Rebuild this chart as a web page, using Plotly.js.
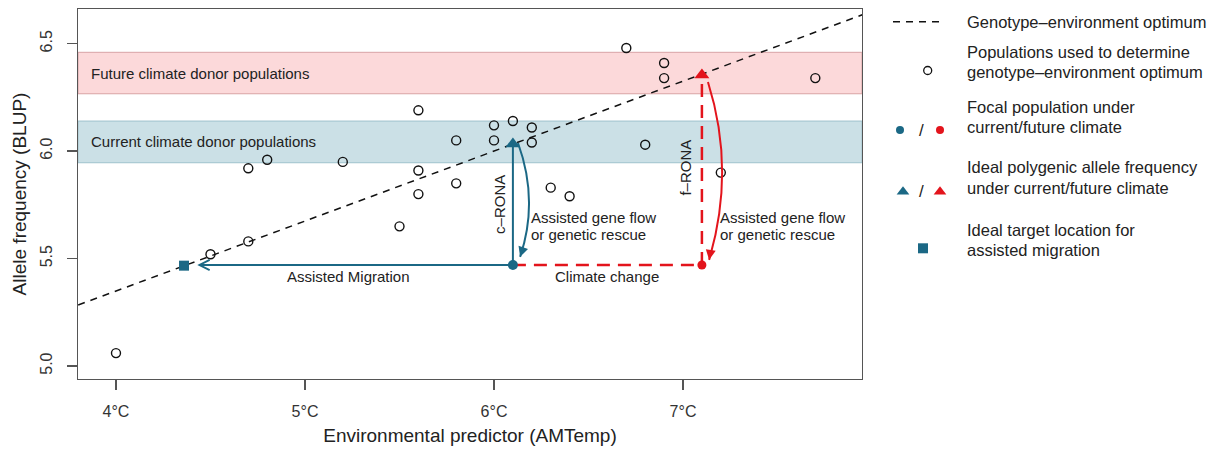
<!DOCTYPE html>
<html>
<head>
<meta charset="utf-8">
<script src="https://cdn.plot.ly/plotly-3.0.1.min.js"></script>
<style>html,body{margin:0;padding:0;background:#fff;}#chart{width:1224px;height:454px;}</style>
</head>
<body>
<div id="chart"></div>
<script>
// ---------------- data ----------------
const popX = [4.0, 4.5, 4.7, 4.7, 4.8, 5.2, 5.5, 5.6, 5.6, 5.6, 5.8, 5.8, 6.0, 6.0, 6.1, 6.2, 6.2, 6.3, 6.4, 6.7, 6.8, 6.9, 6.9, 7.2, 7.7];
const popY = [5.06, 5.52, 5.58, 5.92, 5.96, 5.95, 5.65, 6.19, 5.91, 5.80, 6.05, 5.85, 6.12, 6.05, 6.14, 6.11, 6.04, 5.83, 5.79, 6.48, 6.03, 6.41, 6.34, 5.90, 6.34];
const optimumX = [3.80, 7.95];
const optimumY = [5.284, 6.635];
const focalX = [6.1, 7.1];          // current, future climate
const focalY = [5.47, 5.47];
const idealX = [6.1, 7.1];          // ideal allele frequency current, future
const idealY = [6.033, 6.354];
const targetX = [4.36];
const targetY = [5.467];
const migrationTipX = 4.43;
const futureBand = [6.267, 6.46];
const currentBand = [5.946, 6.140];
const xTickVals = [4, 5, 6, 7];
const xTickText = ['4°C', '5°C', '6°C', '7°C'];
const yTickVals = [5.0, 5.5, 6.0, 6.5];
const yTickText = ['5.0', '5.5', '6.0', '6.5'];
// curved "assisted gene flow" arrows: start, control, end
const cCurve = {x: [6.127, 6.238, 6.138], y: [6.038, 5.77, 5.508]};
const fCurve = {x: [7.132, 7.279, 7.138], y: [6.322, 5.913, 5.494]};

const TEAL = '#1b6885';
const RED = '#e3141c';
const INK = '#222';
const FONT = 'Liberation Sans, Arial, Helvetica, sans-serif';

const traces = [
  {x: optimumX, y: optimumY, mode: 'lines', line: {color: '#111', width: 1.5, dash: '7px,6px'}, hoverinfo: 'skip'},
  {x: popX, y: popY, mode: 'markers', marker: {symbol: 'circle-open', size: 9, color: '#111', line: {width: 1.4}}},
  // c-RONA vertical
  {x: [focalX[0], idealX[0]], y: [focalY[0], idealY[0]], mode: 'lines', line: {color: TEAL, width: 2}},
  // f-RONA vertical dashed
  {x: [focalX[1], idealX[1]], y: [focalY[1], idealY[1]], mode: 'lines', line: {color: RED, width: 2.5, dash: '13px,8px'}},
  // climate change dashed
  {x: [focalX[0], focalX[1]], y: [focalY[0], focalY[1]], mode: 'lines', line: {color: RED, width: 2.5, dash: '13px,8px'}},
  {x: [focalX[0]], y: [focalY[0]], mode: 'markers', marker: {symbol: 'circle', size: 10, color: TEAL}},
  {x: [focalX[1]], y: [focalY[1]], mode: 'markers', marker: {symbol: 'circle', size: 9, color: RED}},
  {x: [idealX[0]], y: [idealY[0]], mode: 'markers', marker: {symbol: 'triangle-up', size: 13, color: TEAL}},
  {x: [idealX[1]], y: [idealY[1]], mode: 'markers', marker: {symbol: 'triangle-up', size: 13, color: RED}},
  {x: targetX, y: targetY, mode: 'markers', marker: {symbol: 'square', size: 10, color: TEAL}},
  // legend symbols (pixel-space axes)
  {x: [893, 941], y: [21.7, 21.7], xaxis: 'x2', yaxis: 'y2', mode: 'lines', line: {color: '#111', width: 1.5, dash: '7px,6px'}},
  {x: [927.7], y: [70.5], xaxis: 'x2', yaxis: 'y2', mode: 'markers', marker: {symbol: 'circle-open', size: 8, color: '#111', line: {width: 1.3}}},
  {x: [900], y: [130], xaxis: 'x2', yaxis: 'y2', mode: 'markers', marker: {symbol: 'circle', size: 8, color: TEAL}},
  {x: [940], y: [130], xaxis: 'x2', yaxis: 'y2', mode: 'markers', marker: {symbol: 'circle', size: 8, color: RED}},
  {x: [903], y: [191.7], xaxis: 'x2', yaxis: 'y2', mode: 'markers', marker: {symbol: 'triangle-up', size: 11, color: TEAL}},
  {x: [940], y: [191.7], xaxis: 'x2', yaxis: 'y2', mode: 'markers', marker: {symbol: 'triangle-up', size: 11, color: RED}},
  {x: [923], y: [248.3], xaxis: 'x2', yaxis: 'y2', mode: 'markers', marker: {symbol: 'square', size: 10, color: TEAL}}
];

function band(r, fill, edge) {
  return {type: 'rect', xref: 'x domain', yref: 'y', x0: 0, x1: 1, y0: r[0], y1: r[1],
          fillcolor: fill, line: {color: edge, width: 1}, layer: 'below'};
}
function curve(c, color) {
  return {type: 'path', xref: 'x', yref: 'y', layer: 'above',
    path: `M${c.x[0]},${c.y[0]} Q${c.x[1]},${c.y[1]} ${c.x[2]},${c.y[2]}`,
    line: {color: color, width: 2}};
}
const shapes = [
  band(futureBand, '#fcd9da', '#d8a3a5'),
  band(currentBand, '#cbe0e6', '#9fc2cc'),
  curve(cCurve, TEAL),
  curve(fCurve, RED)
];

function txt(x, y, text, opts) {
  return Object.assign({x: x, y: y, xref: 'x', yref: 'y', text: text, showarrow: false,
    font: {family: FONT, size: 15, color: INK}}, opts || {});
}
function legText(y, text) {
  return {x: 965, y: y, xref: 'x2', yref: 'y2', text: text, showarrow: false, xanchor: 'left',
    font: {family: FONT, size: 16.5, color: INK}};
}
const annotations = [
  txt(3.857, (futureBand[0] + futureBand[1]) / 2, 'Future climate donor populations', {xanchor: 'left'}),
  txt(3.857, (currentBand[0] + currentBand[1]) / 2, 'Current climate donor populations', {xanchor: 'left'}),
  txt(5.228, 5.415, 'Assisted Migration'),
  txt(6.596, 5.415, 'Climate change'),
  txt(6.032, 5.75, 'c–RONA', {textangle: -90}),
  txt(7.011, 5.924, 'f–RONA', {textangle: -90}),
  txt(6.185, 5.692, 'Assisted gene flow', {xanchor: 'left'}),
  txt(6.185, 5.613, 'or genetic rescue', {xanchor: 'left'}),
  txt(7.187, 5.692, 'Assisted gene flow', {xanchor: 'left'}),
  txt(7.187, 5.613, 'or genetic rescue', {xanchor: 'left'}),
  // assisted migration arrow
  {x: migrationTipX, y: focalY[0], ax: focalX[0], ay: focalY[0], xref: 'x', yref: 'y', axref: 'x', ayref: 'y',
   text: '', showarrow: true, arrowhead: 5, arrowsize: 1, arrowwidth: 2, arrowcolor: TEAL},
  // curved arrow heads
  {x: cCurve.x[2], y: cCurve.y[2], ax: 3.2, ay: -9.5, xref: 'x', yref: 'y', text: '', showarrow: true,
   arrowhead: 2, arrowsize: 1, arrowwidth: 2, arrowcolor: TEAL},
  {x: fCurve.x[2], y: fCurve.y[2], ax: 1.7, ay: -9.9, xref: 'x', yref: 'y', text: '', showarrow: true,
   arrowhead: 2, arrowsize: 1, arrowwidth: 2, arrowcolor: RED},
  legText(21.7, 'Genotype–environment optimum'),
  legText(51.7, 'Populations used to determine'),
  legText(71.7, 'genotype–environment optimum'),
  legText(106.7, 'Focal population under'),
  legText(126.7, 'current/future climate'),
  legText(167, 'Ideal polygenic allele frequency'),
  legText(188, 'under current/future climate'),
  legText(230, 'Ideal target location for'),
  legText(250, 'assisted migration'),
  {x: 921.7, y: 130, xref: 'x2', yref: 'y2', text: '/', showarrow: false, font: {family: FONT, size: 17, color: INK}},
  {x: 921.7, y: 191.7, xref: 'x2', yref: 'y2', text: '/', showarrow: false, font: {family: FONT, size: 17, color: INK}}
];

const mainRight = (862 - 78) / (1224 - 78);
const layout = {
  width: 1224, height: 454,
  margin: {l: 78, r: 0, t: 9, b: 75, pad: 0},
  paper_bgcolor: '#fff', plot_bgcolor: '#fff',
  showlegend: false,
  font: {family: FONT, color: INK},
  xaxis: {
    domain: [0, mainRight], range: [3.799, 7.947], showgrid: false, zeroline: false,
    showline: true, mirror: true, linecolor: '#555', linewidth: 1.3,
    ticks: 'outside', ticklen: 10, tickcolor: '#555', tickwidth: 1.3, ticklabelstandoff: 7,
    tickvals: xTickVals, ticktext: xTickText, tickfont: {family: FONT, size: 16, color: '#333'},
    title: {text: 'Environmental predictor (AMTemp)', font: {family: FONT, size: 19, color: INK}, standoff: 10},
    automargin: false
  },
  yaxis: {
    range: [4.9395, 6.6615], showgrid: false, zeroline: false,
    showline: true, mirror: true, linecolor: '#555', linewidth: 1.3,
    ticks: 'outside', ticklen: 10, tickcolor: '#555', tickwidth: 1.3, ticklabelstandoff: 8,
    tickvals: yTickVals, ticktext: yTickText, tickangle: -90, tickfont: {family: FONT, size: 16, color: '#333'},
    title: {text: 'Allele frequency (BLUP)', font: {family: FONT, size: 19, color: INK}, standoff: 6},
    automargin: false
  },
  xaxis2: {domain: [(866 - 78) / 1146, 1], range: [866, 1224], visible: false, fixedrange: true},
  yaxis2: {domain: [0, 1], range: [379, 9], visible: false, anchor: 'x2', fixedrange: true},
  shapes: shapes,
  annotations: annotations
};

Plotly.newPlot('chart', traces, layout, {displayModeBar: false, staticPlot: true});
</script>
</body>
</html>
